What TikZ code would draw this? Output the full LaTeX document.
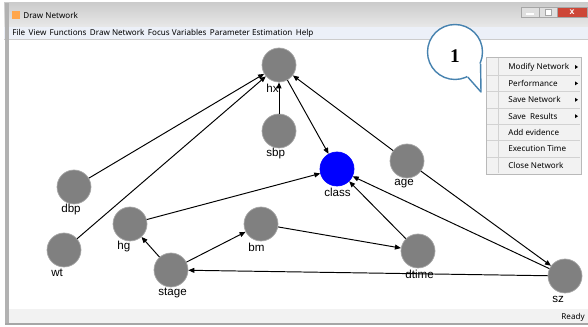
\documentclass[tikz,border=0pt]{standalone}
\usepackage{fontspec}
\setmainfont{Liberation Sans}
\newfontfamily\uifont{Noto Sans}
\newfontfamily\numfont{Liberation Serif}
\usetikzlibrary{positioning}
\usetikzlibrary{arrows.meta}
\definecolor{nodegray}{RGB}{128,128,128}
\definecolor{classblue}{RGB}{0,0,255}
\definecolor{calloutblue}{RGB}{70,130,175}
\definecolor{menugray}{RGB}{242,242,242}
\definecolor{barblue}{RGB}{236,240,248}
\definecolor{closered}{RGB}{205,70,55}

\begin{document}
\begin{tikzpicture}[x=0.02cm,y=-0.02cm,
    var/.style={draw=gray!70,fill=nodegray,circle,inner sep=0pt,minimum size=0.68cm},
    lbl/.style={anchor=west,inner sep=0pt,font=\fontsize{6.6}{7}\selectfont},
    link/.style={-{Triangle[length=3.4pt,width=2.8pt]},line width=0.55pt},
    ui/.style={inner sep=0pt,font=\uifont\fontsize{4.6}{5}\selectfont}]
\useasboundingbox (0,0) rectangle (588,327);

    % window frame
    \shade[top color=gray!40,bottom color=gray!18] (4,3) rectangle (588,27);
    \fill[barblue] (4,27) rectangle (588,39);
    \draw[gray!40] (4,39) -- (588,39);
    \fill[gray!60] (5,3) rectangle (9,325);
    \fill[menugray] (9,309) rectangle (588,323);
    \fill[gray!70] (5,323) rectangle (588,325);
    \fill[orange!70] (12,11) rectangle (20,19);
    \node[ui,anchor=west] (title) at (23,15.5) {Draw Network};
    \node[ui,anchor=west] (menubar) at (12,33) {File\hspace{0.42em}View\hspace{0.42em}Functions\hspace{0.42em}Draw Network\hspace{0.42em}Focus Variables\hspace{0.42em}Parameter Estimation\hspace{0.42em}Help};
    \node[ui,anchor=east] (status) at (585,317) {Ready};

    % window buttons
    \node[draw=gray!70,fill=gray!25,minimum width=0.36cm,minimum height=0.2cm,inner sep=0pt] (minbtn) at (530,12) {};
    \node[draw=gray!70,fill=gray!25,minimum width=0.36cm,minimum height=0.2cm,inner sep=0pt] (maxbtn) at (548,12) {};
    \node[draw=gray!70,fill=closered,minimum width=0.6cm,minimum height=0.2cm,inner sep=0pt,text=white,font=\bfseries\tiny] (closebtn) at (572,12) {x};
    \draw[white,line width=1pt] (526,14) -- (534,14);
    \draw[gray!70,fill=white] (545,9) rectangle (551,15);

    % network nodes
    \node[var] (hx) at (279,65) {};
    \node[var] (sbp) at (279,131) {};
    \node[var,fill=classblue,draw=classblue] (class) at (337,169) {};
    \node[var] (age) at (407,161) {};
    \node[var] (dbp) at (74,187) {};
    \node[var] (hg) at (130,224) {};
    \node[var] (wt) at (64,250) {};
    \node[var] (stage) at (171,270) {};
    \node[var] (bm) at (261,224) {};
    \node[var] (dtime) at (418,251) {};
    \node[var] (sz) at (565,276) {};

    % labels
    \foreach \n in {hx,sbp,class,age,dbp,hg,wt,stage,bm,dtime,sz}
        \node[lbl] (\n-lbl) at ([xshift=-0.26cm,yshift=-0.46cm]\n.center) {\n};

    % connectors
    \foreach \a/\b in {dbp/hx,wt/hx,sbp/hx,age/hx,hx/class,hg/class,dtime/class,sz/class,
                       stage/hg,stage/bm,bm/dtime,age/sz,sz/stage}
        \draw[link] (\a) -- (\b);

    % callout
    \node[circle,draw=calloutblue,fill=white,line width=0.8pt,minimum size=1.1cm,inner sep=0pt] (callout) at (455,52) {};
    \coordinate (tip) at (481,92);
    \fill[white] (callout.center) -- (callout.-63) -- (tip) -- (callout.-25) -- cycle;
    \draw[calloutblue,line width=0.8pt,line join=round] (callout.-63) -- (tip) -- (callout.-25);
    \node[font=\numfont\bfseries\fontsize{11}{12}\selectfont] (one) at (455,56) {1};

    % context menu
    \node[draw=gray!55,fill=menugray,minimum width=1.9cm,minimum height=2.34cm,inner sep=0pt,anchor=north west] (menu) at (486,57) {};
    \draw[gray!35] (498,58) -- (498,173);
    \foreach \t [count=\i] in {Modify Network,Performance,Save Network,Save\ \ Results,Add evidence,Execution Time,Close Network}
        \node[ui,anchor=west] (item\i) at (508,50.6+16.4*\i) {\t};
    \foreach \i in {1,...,6}
        \draw[gray!35] (487,58.8+16.4*\i) -- (580,58.8+16.4*\i);
    \foreach \i in {1,...,4}
        \fill (575,48.6+16.4*\i) -- (578,50.6+16.4*\i) -- (575,52.6+16.4*\i) -- cycle;
\end{tikzpicture}
\end{document}
